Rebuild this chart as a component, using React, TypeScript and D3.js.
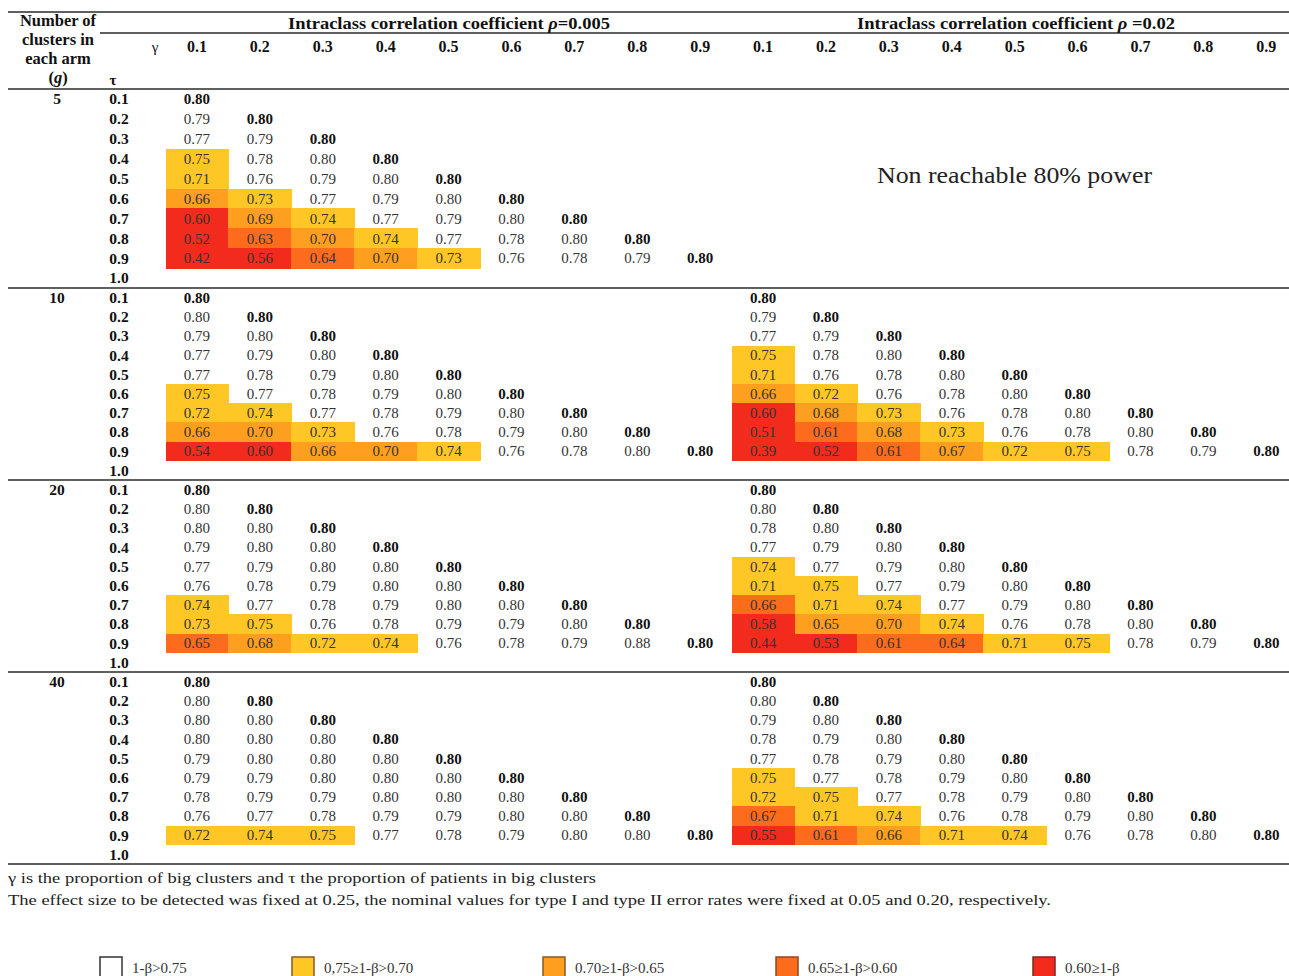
import React from "react";
import * as d3 from "d3";

// ---------- data ----------
const clusterSizes = [5, 10, 20, 40];
const rhoLabels = ["0.005", "0.02"];
const gammaLabels = ["0.1", "0.2", "0.3", "0.4", "0.5", "0.6", "0.7", "0.8", "0.9"];
const tauLabels = ["0.1", "0.2", "0.3", "0.4", "0.5", "0.6", "0.7", "0.8", "0.9", "1.0"];

const power_g5_rho005 = [
  [0.80],
  [0.79, 0.80],
  [0.77, 0.79, 0.80],
  [0.75, 0.78, 0.80, 0.80],
  [0.71, 0.76, 0.79, 0.80, 0.80],
  [0.66, 0.73, 0.77, 0.79, 0.80, 0.80],
  [0.60, 0.69, 0.74, 0.77, 0.79, 0.80, 0.80],
  [0.52, 0.63, 0.70, 0.74, 0.77, 0.78, 0.80, 0.80],
  [0.42, 0.56, 0.64, 0.70, 0.73, 0.76, 0.78, 0.79, 0.80],
];
const power_g5_rho02: number[][] = [];

const power_g10_rho005 = [
  [0.80],
  [0.80, 0.80],
  [0.79, 0.80, 0.80],
  [0.77, 0.79, 0.80, 0.80],
  [0.77, 0.78, 0.79, 0.80, 0.80],
  [0.75, 0.77, 0.78, 0.79, 0.80, 0.80],
  [0.72, 0.74, 0.77, 0.78, 0.79, 0.80, 0.80],
  [0.66, 0.70, 0.73, 0.76, 0.78, 0.79, 0.80, 0.80],
  [0.54, 0.60, 0.66, 0.70, 0.74, 0.76, 0.78, 0.80, 0.80],
];
const power_g10_rho02 = [
  [0.80],
  [0.79, 0.80],
  [0.77, 0.79, 0.80],
  [0.75, 0.78, 0.80, 0.80],
  [0.71, 0.76, 0.78, 0.80, 0.80],
  [0.66, 0.72, 0.76, 0.78, 0.80, 0.80],
  [0.60, 0.68, 0.73, 0.76, 0.78, 0.80, 0.80],
  [0.51, 0.61, 0.68, 0.73, 0.76, 0.78, 0.80, 0.80],
  [0.39, 0.52, 0.61, 0.67, 0.72, 0.75, 0.78, 0.79, 0.80],
];

const power_g20_rho005 = [
  [0.80],
  [0.80, 0.80],
  [0.80, 0.80, 0.80],
  [0.79, 0.80, 0.80, 0.80],
  [0.77, 0.79, 0.80, 0.80, 0.80],
  [0.76, 0.78, 0.79, 0.80, 0.80, 0.80],
  [0.74, 0.77, 0.78, 0.79, 0.80, 0.80, 0.80],
  [0.73, 0.75, 0.76, 0.78, 0.79, 0.79, 0.80, 0.80],
  [0.65, 0.68, 0.72, 0.74, 0.76, 0.78, 0.79, 0.88, 0.80],
];
const power_g20_rho02 = [
  [0.80],
  [0.80, 0.80],
  [0.78, 0.80, 0.80],
  [0.77, 0.79, 0.80, 0.80],
  [0.74, 0.77, 0.79, 0.80, 0.80],
  [0.71, 0.75, 0.77, 0.79, 0.80, 0.80],
  [0.66, 0.71, 0.74, 0.77, 0.79, 0.80, 0.80],
  [0.58, 0.65, 0.70, 0.74, 0.76, 0.78, 0.80, 0.80],
  [0.44, 0.53, 0.61, 0.64, 0.71, 0.75, 0.78, 0.79, 0.80],
];

const power_g40_rho005 = [
  [0.80],
  [0.80, 0.80],
  [0.80, 0.80, 0.80],
  [0.80, 0.80, 0.80, 0.80],
  [0.79, 0.80, 0.80, 0.80, 0.80],
  [0.79, 0.79, 0.80, 0.80, 0.80, 0.80],
  [0.78, 0.79, 0.79, 0.80, 0.80, 0.80, 0.80],
  [0.76, 0.77, 0.78, 0.79, 0.79, 0.80, 0.80, 0.80],
  [0.72, 0.74, 0.75, 0.77, 0.78, 0.79, 0.80, 0.80, 0.80],
];
const power_g40_rho02 = [
  [0.80],
  [0.80, 0.80],
  [0.79, 0.80, 0.80],
  [0.78, 0.79, 0.80, 0.80],
  [0.77, 0.78, 0.79, 0.80, 0.80],
  [0.75, 0.77, 0.78, 0.79, 0.80, 0.80],
  [0.72, 0.75, 0.77, 0.78, 0.79, 0.80, 0.80],
  [0.67, 0.71, 0.74, 0.76, 0.78, 0.79, 0.80, 0.80],
  [0.55, 0.61, 0.66, 0.71, 0.74, 0.76, 0.78, 0.80, 0.80],
];

const powerTables = [
  [power_g5_rho005, power_g5_rho02],
  [power_g10_rho005, power_g10_rho02],
  [power_g20_rho005, power_g20_rho02],
  [power_g40_rho005, power_g40_rho02],
];

// band index: 0 = red, 1 = dark orange, 2 = orange, 3 = yellow, 4 = none
const bandThresholds = [0.605, 0.655, 0.705, 0.755];
// cells shaded differently in the original than the thresholds give
const bandOverrides = [
  { g: 20, rho: 1, tau: 6, gamma: 0, band: 1 },
  { g: 20, rho: 1, tau: 7, gamma: 1, band: 2 },
  { g: 40, rho: 1, tau: 7, gamma: 0, band: 1 },
];

const legendLabels = ["1-β>0.75", "0,75≥1-β>0.70", "0.70≥1-β>0.65", "0.65≥1-β>0.60", "0.60≥1-β"];
const legendBands = [4, 3, 2, 1, 0];

const footnote1 = "γ is the proportion of big clusters and τ the proportion of patients in big clusters";
const footnote2 =
  "The effect size to be detected was fixed at 0.25, the nominal values for type I and type II error rates were fixed at 0.05 and 0.20, respectively.";
const nonReachable = "Non reachable 80% power";

// ---------- styles ----------
const bandColors = ["#f22b1c", "#fd6b1d", "#fe9f1f", "#ffc726", "none"];
const legendBorders = ["#333", "#8a5a20", "#8a5a20", "#8a4a20", "#7a2a20"];
const FONT = "'Liberation Serif', 'Times New Roman', serif";
const W = 1289;
const H = 976;

export default function App() {
  const colScale = d3
    .scaleBand<number>()
    .domain(d3.range(18))
    .range([165.5, 165.5 + 18 * 62.9]);

  const blockEdges = [89, 288, 480, 672, 864];
  const bandColor = d3.scaleThreshold<number, number>().domain(bandThresholds).range([0, 1, 2, 3, 4]);

  const blocks = clusterSizes.map((g, bi) => {
    const y = d3
      .scaleBand<string>()
      .domain(tauLabels)
      .range([blockEdges[bi], blockEdges[bi + 1]]);
    return { g, bi, y };
  });

  const lineColor = "#2b2b2b";

  return (
    <svg
      width={W}
      height={H}
      style={{ position: "absolute", left: 0, top: 0, background: "#fff" }}
      fontFamily={FONT}
    >
      <rect x={0} y={0} width={W} height={H} fill="#fff" />
      {/* horizontal rules */}
      <line x1={8} x2={W} y1={12} y2={12} stroke={lineColor} strokeWidth={1.6} />
      <line x1={100} x2={W} y1={33} y2={33} stroke={lineColor} strokeWidth={1.4} />
      {blockEdges.map((yy, i) => (
        <line key={"r" + i} x1={8} x2={W} y1={yy} y2={yy} stroke={lineColor} strokeWidth={1.6} />
      ))}

      {/* header left */}
      <g fontWeight="bold" fontSize={16.5} textAnchor="middle" fill="#111">
        <text x={58} y={26}>Number of</text>
        <text x={58} y={45}>clusters in</text>
        <text x={58} y={64}>each arm</text>
        <text x={58} y={83}>
          (<tspan fontStyle="italic">g</tspan>)
        </text>
      </g>
      <text x={155} y={52} fontSize={15} textAnchor="middle" fill="#111">γ</text>
      <text x={113} y={85} fontSize={15} fontWeight="bold" textAnchor="middle" fill="#111">τ</text>

      {/* rho group headers */}
      {rhoLabels.map((r, ri) => {
        const x0 = ri === 0 ? 288 : 857;
        const len = ri === 0 ? 322 : 318;
        return (
          <text
            key={"rh" + ri}
            x={x0}
            y={29}
            fontSize={17}
            fontWeight="bold"
            textLength={len}
            lengthAdjust="spacingAndGlyphs"
            fill="#111"
          >
            Intraclass correlation coefficient <tspan fontStyle="italic">ρ</tspan>
            {ri === 0 ? "=" : " ="}
            {r}
          </text>
        );
      })}

      {/* gamma column headers */}
      {rhoLabels.map((_, ri) =>
        gammaLabels.map((gl, gi) => {
          const ci = ri * 9 + gi;
          return (
            <text
              key={"gh" + ci}
              x={(colScale(ci) as number) + colScale.bandwidth() / 2}
              y={52}
              fontSize={16}
              fontWeight="bold"
              textAnchor="middle"
              fill="#111"
            >
              {gl}
            </text>
          );
        })
      )}

      {/* blocks */}
      {blocks.map(({ g, bi, y }) => (
        <g key={"b" + bi}>
          <text
            x={57}
            y={(y(tauLabels[0]) as number) + y.bandwidth() / 2}
            dy="0.35em"
            fontSize={15.5}
            fontWeight="bold"
            textAnchor="middle"
            fill="#111"
          >
            {g}
          </text>
          {tauLabels.map((t) => (
            <text
              key={"t" + t}
              x={119}
              y={(y(t) as number) + y.bandwidth() / 2}
              dy="0.35em"
              fontSize={15.5}
              fontWeight="bold"
              textAnchor="middle"
              fill="#111"
            >
              {t}
            </text>
          ))}
          {/* shaded cells */}
          {powerTables[bi].map((tbl, ri) =>
            tbl.map((row, ti) =>
              row.map((v, gi) => {
                const ov = bandOverrides.find((o) => o.g === g && o.rho === ri && o.tau === ti && o.gamma === gi);
                const band = ov ? ov.band : bandColor(v);
                if (band === 4) return null;
                const ci = ri * 9 + gi;
                return (
                  <rect
                    key={`c${ri}-${ti}-${gi}`}
                    x={colScale(ci) as number}
                    y={y(tauLabels[ti]) as number}
                    width={colScale.bandwidth() + 0.6}
                    height={y.bandwidth() + 0.6}
                    fill={bandColors[band]}
                    shapeRendering="crispEdges"
                  />
                );
              })
            )
          )}
          {/* values */}
          {powerTables[bi].map((tbl, ri) =>
            tbl.map((row, ti) =>
              row.map((v, gi) => {
                const ci = ri * 9 + gi;
                const diag = gi === ti;
                return (
                  <text
                    key={`v${ri}-${ti}-${gi}`}
                    x={(colScale(ci) as number) + colScale.bandwidth() / 2}
                    y={(y(tauLabels[ti]) as number) + y.bandwidth() / 2}
                    dy="0.35em"
                    fontSize={15}
                    fontWeight={diag ? "bold" : "normal"}
                    textAnchor="middle"
                    fill={diag ? "#111" : "#333"}
                  >
                    {v.toFixed(2)}
                  </text>
                );
              })
            )
          )}
        </g>
      ))}

      {/* non reachable note */}
      <text x={877} y={183} fontSize={23} textLength={275} lengthAdjust="spacingAndGlyphs" fill="#222">
        {nonReachable}
      </text>

      {/* footnotes */}
      <text x={8} y={883} fontSize={15.5} textLength={588} lengthAdjust="spacingAndGlyphs" fill="#222">
        {footnote1}
      </text>
      <text x={8} y={905} fontSize={15.5} textLength={1043} lengthAdjust="spacingAndGlyphs" fill="#222">
        {footnote2}
      </text>

      {/* legend */}
      {legendLabels.map((lab, i) => {
        const bx = [100, 292, 543, 776, 1033][i];
        const band = legendBands[i];
        return (
          <g key={"lg" + i}>
            <rect
              x={bx}
              y={957}
              width={22}
              height={24}
              fill={band === 4 ? "#fff" : bandColors[band]}
              stroke={legendBorders[i]}
              strokeWidth={1.5}
            />
            <text x={bx + 32} y={973} fontSize={15} fill="#333">
              {lab}
            </text>
          </g>
        );
      })}
    </svg>
  );
}
